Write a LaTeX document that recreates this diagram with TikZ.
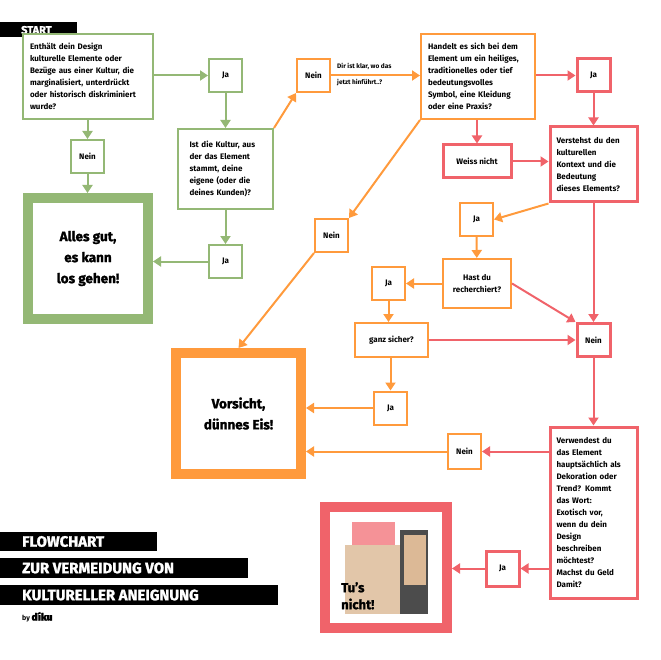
\documentclass[tikz,border=0pt]{standalone}
\usepackage{fontspec}
\setmainfont{Fira Sans}[BoldFont={Fira Sans Bold}]
\newfontfamily\heavyfont{Fira Sans Bold}[FakeBold=1.5]
\usetikzlibrary{arrows.meta}
\definecolor{gr}{HTML}{94B875}
\definecolor{og}{HTML}{FF9A3C}
\definecolor{rd}{HTML}{F0636A}
\begin{document}
\begin{tikzpicture}[x=1pt,y=-1pt,
  box/.style={draw,line width=2pt,fill=white,text=black,inner sep=0pt,font=\fontsize{8}{12}\selectfont\bfseries},
  sq/.style={box,minimum width=33pt,minimum height=33pt},
  big/.style={draw,line width=10pt,fill=white,text=black,inner sep=0pt,align=center,font=\fontsize{13.5}{21}\selectfont\heavyfont},
  a/.style={line width=2pt,-{Triangle[width=10pt,length=8pt]}},
  tt/.style={white,anchor=west,inner sep=0pt,font=\fontsize{15}{15}\selectfont\heavyfont}]
\useasboundingbox (0,0) rectangle (660,660);
% START
\fill[black] (0,22) rectangle (77,37);
\node[white,font=\fontsize{11}{10}\selectfont\heavyfont,anchor=west,inner sep=0pt] (st) at (21,30) {START};
% nodes
\node[box,draw=gr,minimum width=130pt,minimum height=85pt,text width=116pt,align=left] (q1) at (88,76.5) {Enthält dein Design\\kulturelle Elemente oder\\Bezüge aus einer Kultur, die\\marginalisiert, unterdrückt\\oder historisch diskriminiert\\wurde?};
\node[sq,draw=gr] (ja1) at (225.5,75.5) {Ja};
\node[sq,draw=gr] (nein1) at (87.5,156.5) {Nein};
\node[big,draw=gr,minimum width=120pt,minimum height=121pt] (alles) at (88,258.5) {Alles gut,\\es kann\\los gehen!};
\node[box,draw=gr,minimum width=95pt,minimum height=80pt,text width=72pt,align=left] (q2) at (225.5,169) {Ist die Kultur, aus\\der das Element\\stammt, deine\\eigene (oder die\\deines Kunden)?};
\node[sq,draw=gr] (ja2) at (225.5,261.5) {Ja};
\node[sq,draw=og] (neinT) at (313.5,75.5) {Nein};
\node[box,draw=og,minimum width=114pt,minimum height=85pt,text width=100pt,align=left] (q3) at (478,76.5) {Handelt es sich bei dem\\Element um ein heiliges,\\traditionelles oder tief\\bedeutungsvolles\\Symbol, eine Kleidung\\oder eine Praxis?};
\node[sq,draw=rd,line width=3pt] (jaR) at (593.5,75.5) {Ja};
\node[box,draw=rd,line width=3pt,minimum width=68pt,minimum height=33pt] (weiss) at (477,161.5) {Weiss nicht};
\node[box,draw=rd,line width=3pt,minimum width=87pt,minimum height=75pt,text width=74pt,align=left] (q4) at (593.5,164.5) {Verstehst du den\\kulturellen\\Kontext und die\\Bedeutung\\dieses Elements?};
\node[sq,draw=og] (neinM) at (331.5,235.5) {Nein};
\node[sq,draw=og] (jaO1) at (476.5,219.5) {Ja};
\node[box,draw=og,minimum width=68pt,minimum height=49pt,align=center] (hast) at (477,283.5) {Hast du\\recherchiert?};
\node[sq,draw=og] (jaO2) at (388.5,283.5) {Ja};
\node[box,draw=og,minimum width=73pt,minimum height=34pt] (ganz) at (391.5,340) {ganz sicher?};
\node[sq,draw=rd,line width=3pt] (neinR) at (593.5,340) {Nein};
\node[sq,draw=og] (jaO3) at (390.5,408) {Ja};
\node[big,draw=og,minimum width=125pt,minimum height=121pt] (vor) at (238.5,413.5) {Vorsicht,\\dünnes Eis!};
\node[box,draw=rd,line width=3pt,minimum width=87pt,minimum height=171pt,text width=74pt,align=left] (verw) at (593.5,512.5) {Verwendest du\\das Element\\hauptsächlich als\\Dekoration oder\\Trend? Kommt\\das Wort:\\Exotisch vor,\\wenn du dein\\Design\\beschreiben\\möchtest?\\Machst du Geld\\Damit?};
\node[sq,draw=og,minimum height=35pt] (neinO) at (464.5,451.5) {Nein};
\node[sq,draw=rd,line width=3pt,minimum height=35pt] (jaR2) at (502.5,568.5) {Ja};
\node[draw=rd,line width=10pt,fill=white,minimum width=122pt,minimum height=121pt] (tus) at (386,567.5) {};
\fill[rd!70!white] (352,522) rectangle (395,545);
\fill[brown!45!white] (345,545) rectangle (400,614);
\fill[gray!60!black] (400,530) rectangle (428,614);
\fill[brown!55!white] (404,535) rectangle (426,585);
\node[anchor=north west,align=left,inner sep=0pt,font=\fontsize{13}{17}\selectfont\heavyfont] (tustext) at (341,582) {Tu’s\\nicht!};
% label
\node[font=\fontsize{6.5}{8}\selectfont\bfseries,anchor=west,inner sep=0pt] (l1) at (337,66) {Dir ist klar, wo das};
\node[font=\fontsize{6.5}{8}\selectfont\bfseries,anchor=west,inner sep=0pt] (l2) at (337,83) {jetzt hinführt..?};
% arrows
\draw[a,gr] (q1.east|-ja1) -- (ja1.west);
\draw[a,gr] (ja1) -- (q2);
\draw[a,gr] (q1.south-|nein1) -- (nein1.north);
\draw[a,gr] (nein1) -- (alles.north-|nein1);
\draw[a,gr] (q2.south-|ja2) -- (ja2.north);
\draw[a,gr] (ja2.west) -- (alles.east|-ja2);
\draw[a,og] (q2.north east) -- (neinT.south west);
\draw[a,og] (neinT.east) -- (q3.west|-neinT);
\draw[a,og] (q3.south west) -- (neinM.north east);
\draw[a,og] (neinM.south west) -- (vor.north);
\draw[a,rd] (q3.east|-jaR) -- (jaR.west);
\draw[a,rd] (jaR) -- (q4);
\draw[a,rd] (q3.south-|weiss) -- (weiss.north);
\draw[a,rd] (weiss.east) -- (q4.west|-weiss);
\draw[a,og] (q4.south west) -- (jaO1.east);
\draw[a,rd] (q4) -- (neinR);
\draw[a,og] (jaO1) -- (hast);
\draw[a,og] (hast.west) -- (jaO2.east);
\draw[a,rd] (hast.east) -- (neinR.north west);
\draw[a,og] (jaO2) -- (jaO2|-ganz.north);
\draw[a,rd] (ganz.east) -- (neinR.west);
\draw[a,og] (ganz.south-|jaO3) -- (jaO3.north);
\draw[a,og] (jaO3.west) -- (vor.east|-jaO3);
\draw[a,rd] (neinR) -- (verw);
\draw[a,rd] (verw.west|-neinO) -- (neinO.east);
\draw[a,og] (neinO.west) -- (vor.east|-neinO);
\draw[a,rd] (verw.west|-jaR2) -- (jaR2.east);
\draw[a,rd] (jaR2.west) -- (tus.east|-jaR2);
% title bars
\fill[black] (0,532) rectangle (157,551);
\node[tt] (t1) at (22,541.5) {FLOWCHART};
\fill[black] (0,558) rectangle (248,578);
\node[tt] (t2) at (22,568) {ZUR VERMEIDUNG VON};
\fill[black] (0,585) rectangle (278,605);
\node[tt] (t3) at (22,595) {KULTURELLER ANEIGNUNG};
\node[anchor=west,inner sep=0pt] (by) at (22,617) {\fontsize{7}{8}\selectfont\bfseries by \fontsize{10}{10}\selectfont\heavyfont díku};
\end{tikzpicture}
\end{document}
